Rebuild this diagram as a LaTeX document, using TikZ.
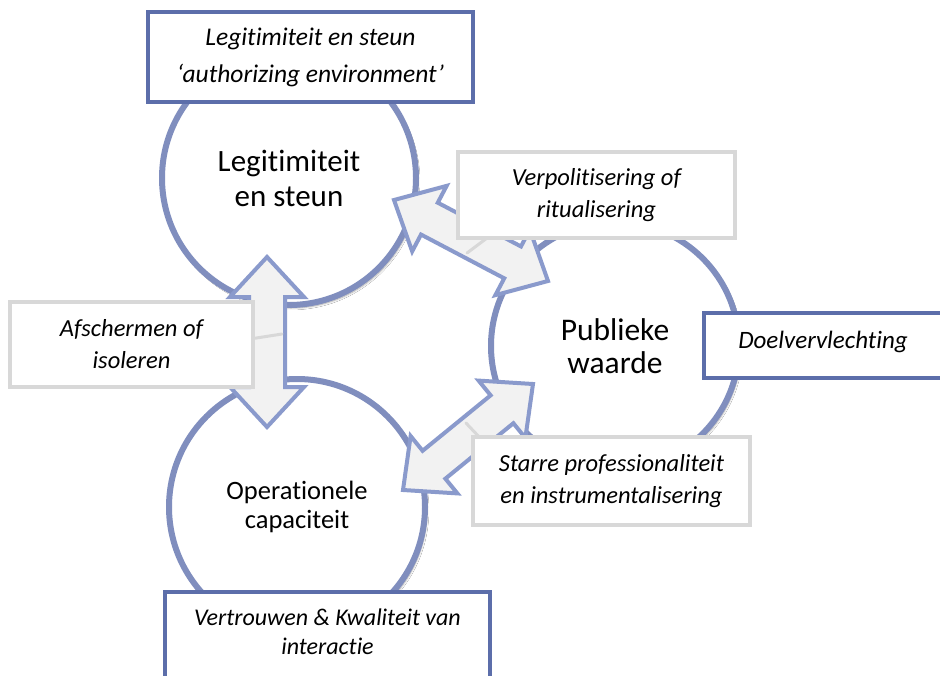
\documentclass[tikz,border=0pt]{standalone}
\usepackage{fontspec}
\setmainfont{Carlito}[Ligatures=NoCommon]
\usetikzlibrary{calc,shadows.blur}

\definecolor{ringblue}{RGB}{128,142,190}
\definecolor{boxblue}{RGB}{92,110,170}
\definecolor{calloutgray}{RGB}{216,216,216}
\definecolor{arrowfill}{RGB}{242,242,242}
\definecolor{arrowline}{RGB}{138,154,204}

% double-headed block arrow between two named coordinates
\newcommand{\dblarrow}[2]{%
  \draw[blockarrow] (#1)
    -- ($(#1)!40pt!(#2)!37pt!90:(#2)$)
    -- ($(#1)!40pt!(#2)!18pt!90:(#2)$)
    -- ($(#2)!40pt!(#1)!18pt!-90:(#1)$)
    -- ($(#2)!40pt!(#1)!37pt!-90:(#1)$)
    -- (#2)
    -- ($(#2)!40pt!(#1)!37pt!90:(#1)$)
    -- ($(#2)!40pt!(#1)!18pt!90:(#1)$)
    -- ($(#1)!40pt!(#2)!18pt!-90:(#2)$)
    -- ($(#1)!40pt!(#2)!37pt!-90:(#2)$)
    -- cycle;}

\begin{document}
\begin{tikzpicture}[x=1pt,y=-1pt,
  ring/.style={circle, draw=ringblue, line width=6pt, fill=white,
    minimum size=#1, inner sep=0pt, align=center, text=black,
    blur shadow={shadow xshift=2pt, shadow yshift=-3pt, shadow opacity=35, shadow blur steps=6}},
  bluebox/.style={draw=boxblue, line width=4pt, fill=white, inner sep=0pt},
  greybox/.style={draw=calloutgray, line width=3.5pt, fill=white, inner sep=0pt,
    align=center, font=\itshape\fontsize{24.5}{32}\selectfont},
  boxtext/.style={align=center, inner sep=0pt, font=\itshape\fontsize{25}{30}\selectfont},
  blockarrow/.style={fill=arrowfill, draw=arrowline, line width=4pt, line join=miter},
  tail/.style={draw=calloutgray, line width=3pt, line cap=round}]

\clip (0,0) rectangle (940,675);
\fill[white] (0,0) rectangle (940,675);

% the three circles
\node[ring=254pt, font=\fontsize{31}{35}\selectfont] (legit) at (289,178) {Legitimiteit\\en steun};
\node[ring=248pt, font=\fontsize{31.5}{33}\selectfont] (value) at (615,346) {Publieke\\waarde};
\node[ring=256pt, font=\fontsize{26.5}{29}\selectfont] (oper) at (297,507) {Operationele\\capaciteit};

% arrow end points
\coordinate (v1) at (267,257);
\coordinate (v2) at (267,427);
\coordinate (d1) at (394,200);
\coordinate (d2) at (548,281);
\coordinate (e1) at (533,384);
\coordinate (e2) at (403,490);

\dblarrow{v1}{v2}
\dblarrow{d1}{d2}
\dblarrow{e1}{e2}

% callout tails
\coordinate (t1a) at (250,339);
\coordinate (t1b) at (282,334);
\coordinate (t2a) at (487,238);
\coordinate (t2b) at (467,253);
\coordinate (t3a) at (482,440);
\coordinate (t3b) at (466,423);
\draw[tail] (t1a) -- (t1b);
\draw[tail] (t2a) -- (t2b);
\draw[tail] (t3a) -- (t3b);

% grey callouts
\node[greybox, minimum width=277pt, minimum height=86pt] (polit) at (596.5,195) {Verpolitisering of\\ritualisering};
\node[greybox, minimum width=243pt, minimum height=85pt] (shield) at (131.5,344.5) {Afschermen of\\isoleren};
\node[greybox, minimum width=277pt, minimum height=88pt] (rigid) at (611.5,481) {Starre professionaliteit\\en instrumentalisering};

% blue boxes
\node[bluebox, minimum width=325pt, minimum height=90pt] (auth) at (310.5,57) {};
\node[boxtext, font=\itshape\fontsize{25.5}{37}\selectfont] (autht) at (310.5,57) {Legitimiteit en steun\\‘authorizing environment’};
\node[bluebox, minimum width=238pt, minimum height=65pt] (goal) at (823,345.5) {};
\node[boxtext] (goalt) at (823,342) {Doelvervlechting};
\node[bluebox, minimum width=325pt, minimum height=100pt] (trust) at (327.5,642) {};
\node[boxtext, font=\itshape\fontsize{24}{29}\selectfont] (trustt) at (327.5,632) {Vertrouwen \& Kwaliteit van\\interactie};

\end{tikzpicture}
\end{document}
